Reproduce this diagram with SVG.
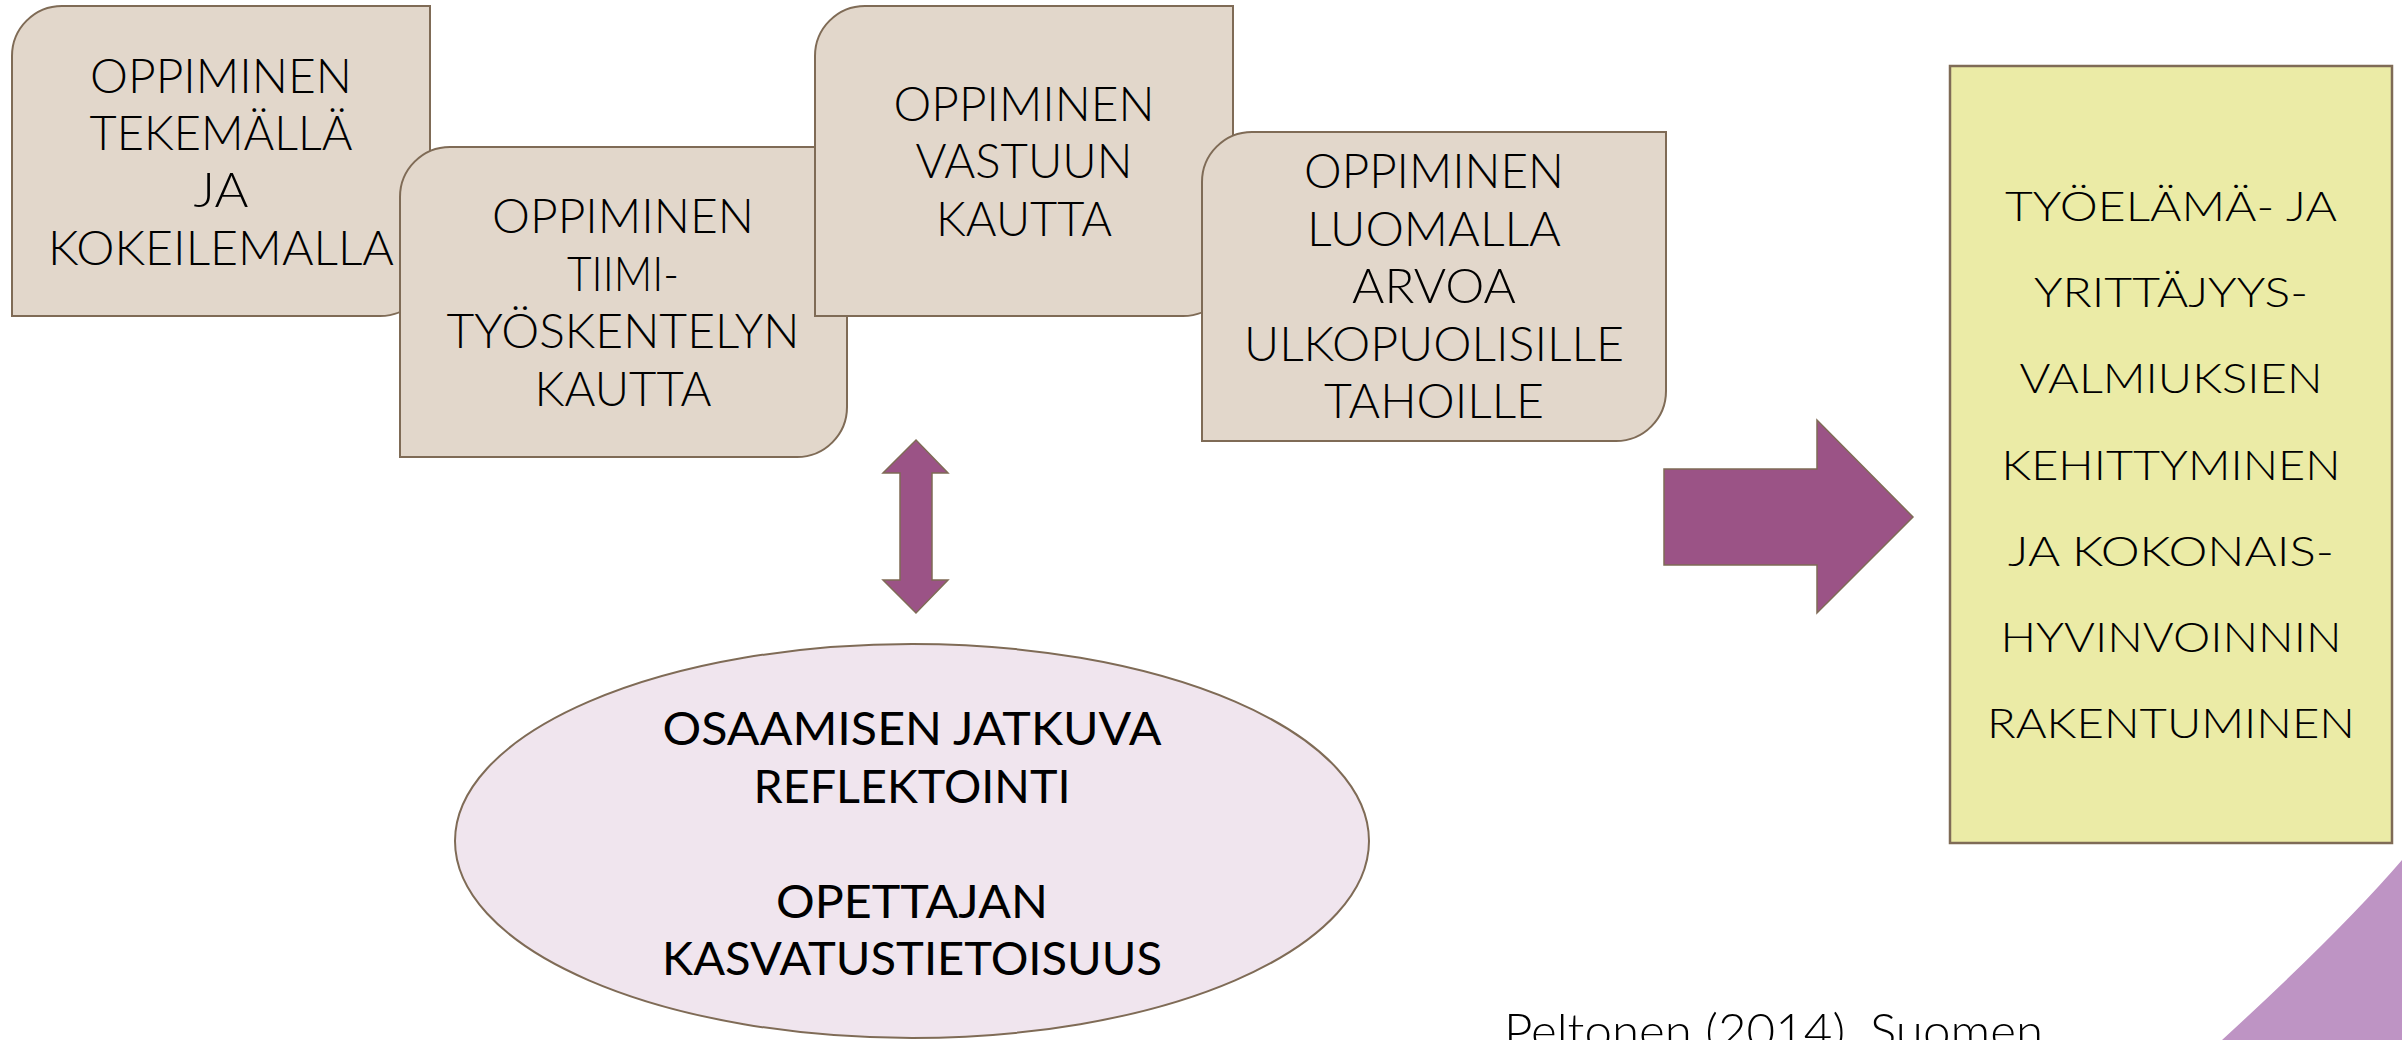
<svg xmlns="http://www.w3.org/2000/svg" width="2402" height="1040" viewBox="0 0 2402 1040">
  <style>
    .box { fill: #E2D7CB; stroke: #7F6B56; stroke-width: 2; }
    .btxt { font-family: Lato, "Noto Sans", sans-serif; font-weight: 300; font-size: 47px; fill: #000; text-anchor: middle; }
    .etxt { font-family: Lato, "Noto Sans", sans-serif; font-weight: 400; font-size: 46px; fill: #000; text-anchor: middle; }
    .rtxt { font-family: Lato, "Noto Sans", sans-serif; font-weight: 300; font-size: 42px; fill: #000; text-anchor: middle; }
    .arrow { fill: #9B5386; stroke: #7F6B56; stroke-width: 1.5; }
  </style>
  <rect width="2402" height="1040" fill="#FFFFFF"/>
  <path id="corner-deco" d="M2222,1040 Q2342,930 2402,860 V1040 Z" fill="#BE94C4"/>

  <g id="node-tekemalla">
    <path class="box" d="M12,56 A50,50 0 0 1 62,6 H430 V266 A50,50 0 0 1 380,316 H12 Z"/>
    <text class="btxt" x="221" y="93" textLength="262" lengthAdjust="spacingAndGlyphs">OPPIMINEN</text>
    <text class="btxt" x="221" y="150" textLength="263" lengthAdjust="spacingAndGlyphs">TEKEMÄLLÄ</text>
    <text class="btxt" x="221" y="207" textLength="55" lengthAdjust="spacingAndGlyphs">JA</text>
    <text class="btxt" x="221" y="265" textLength="346" lengthAdjust="spacingAndGlyphs">KOKEILEMALLA</text>
  </g>

  <g id="node-tiimi">
    <path class="box" d="M400,197 A50,50 0 0 1 450,147 H847 V407 A50,50 0 0 1 797,457 H400 Z"/>
    <text class="btxt" x="623" y="233" textLength="262" lengthAdjust="spacingAndGlyphs">OPPIMINEN</text>
    <text class="btxt" x="623" y="291" textLength="112" lengthAdjust="spacingAndGlyphs">TIIMI-</text>
    <text class="btxt" x="623" y="348" textLength="353" lengthAdjust="spacingAndGlyphs">TYÖSKENTELYN</text>
    <text class="btxt" x="623" y="406" textLength="177" lengthAdjust="spacingAndGlyphs">KAUTTA</text>
  </g>

  <g id="node-vastuu">
    <path class="box" d="M815,56 A50,50 0 0 1 865,6 H1233 V266 A50,50 0 0 1 1183,316 H815 Z"/>
    <text class="btxt" x="1024" y="121" textLength="261" lengthAdjust="spacingAndGlyphs">OPPIMINEN</text>
    <text class="btxt" x="1024" y="178" textLength="217" lengthAdjust="spacingAndGlyphs">VASTUUN</text>
    <text class="btxt" x="1024" y="236" textLength="176" lengthAdjust="spacingAndGlyphs">KAUTTA</text>
  </g>

  <g id="node-arvo">
    <path class="box" d="M1202,182 A50,50 0 0 1 1252,132 H1666 V391 A50,50 0 0 1 1616,441 H1202 Z"/>
    <text class="btxt" x="1434" y="188" textLength="260" lengthAdjust="spacingAndGlyphs">OPPIMINEN</text>
    <text class="btxt" x="1434" y="246" textLength="254" lengthAdjust="spacingAndGlyphs">LUOMALLA</text>
    <text class="btxt" x="1434" y="303" textLength="164" lengthAdjust="spacingAndGlyphs">ARVOA</text>
    <text class="btxt" x="1434" y="361" textLength="380" lengthAdjust="spacingAndGlyphs">ULKOPUOLISILLE</text>
    <text class="btxt" x="1434" y="418" textLength="220" lengthAdjust="spacingAndGlyphs">TAHOILLE</text>
  </g>

  <g id="connectors">
    <polygon class="arrow" points="916,440 948,473 932,473 932,580 948,580 916,613 883,580 900,580 900,473 883,473"/>
    <polygon class="arrow" points="1664,469 1817,469 1817,420 1913,517 1817,613 1817,565 1664,565"/>
  </g>

  <g id="node-reflektointi">
    <ellipse cx="912" cy="841" rx="457" ry="197" fill="#F0E5EE" stroke="#7F6B56" stroke-width="2"/>
    <text class="etxt" x="912" y="745" textLength="499" lengthAdjust="spacingAndGlyphs">OSAAMISEN JATKUVA</text>
    <text class="etxt" x="912" y="803" textLength="317" lengthAdjust="spacingAndGlyphs">REFLEKTOINTI</text>
    <text class="etxt" x="912" y="918" textLength="272" lengthAdjust="spacingAndGlyphs">OPETTAJAN</text>
    <text class="etxt" x="912" y="975" textLength="500" lengthAdjust="spacingAndGlyphs">KASVATUSTIETOISUUS</text>
  </g>

  <g id="node-tulos">
    <rect x="1950" y="66" width="442" height="777" fill="#EBEBA6" stroke="#7F6B56" stroke-width="2.5"/>
    <text class="rtxt" x="2171" y="221" textLength="332" lengthAdjust="spacingAndGlyphs">TYÖELÄMÄ- JA</text>
    <text class="rtxt" x="2171" y="307" textLength="274" lengthAdjust="spacingAndGlyphs">YRITTÄJYYS-</text>
    <text class="rtxt" x="2171" y="393" textLength="303" lengthAdjust="spacingAndGlyphs">VALMIUKSIEN</text>
    <text class="rtxt" x="2171" y="480" textLength="339" lengthAdjust="spacingAndGlyphs">KEHITTYMINEN</text>
    <text class="rtxt" x="2171" y="566" textLength="326" lengthAdjust="spacingAndGlyphs">JA KOKONAIS-</text>
    <text class="rtxt" x="2171" y="652" textLength="341" lengthAdjust="spacingAndGlyphs">HYVINVOINNIN</text>
    <text class="rtxt" x="2171" y="738" textLength="368" lengthAdjust="spacingAndGlyphs">RAKENTUMINEN</text>
  </g>

  <g id="source">
    <text x="1504" y="1048" font-family="Lato, 'Noto Sans', sans-serif" font-weight="300" font-size="47" fill="#000" textLength="539" lengthAdjust="spacingAndGlyphs">Peltonen (2014). Suomen</text>
  </g>
</svg>
